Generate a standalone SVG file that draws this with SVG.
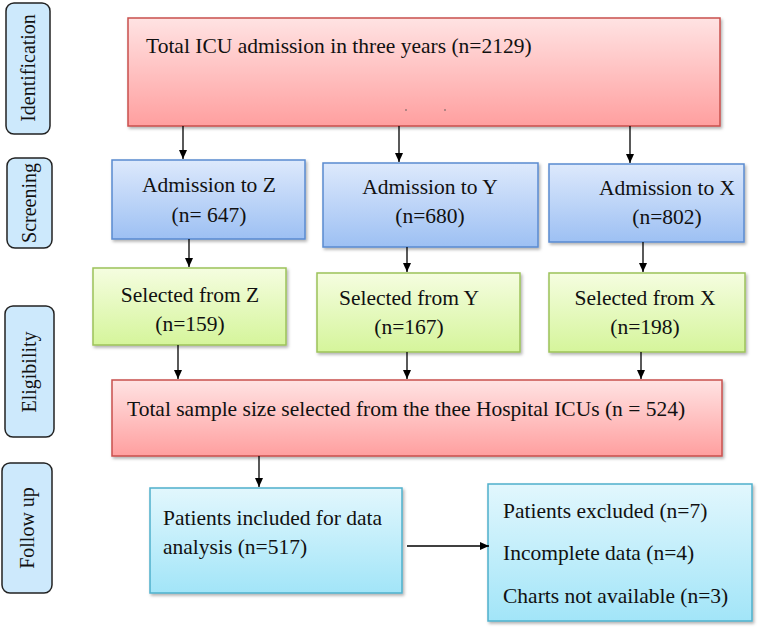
<svg xmlns="http://www.w3.org/2000/svg" width="762" height="633" viewBox="0 0 762 633">
<defs>
<linearGradient id="gRed" x1="0" y1="0" x2="0" y2="1"><stop offset="0" stop-color="#ffe3e3"/><stop offset="1" stop-color="#ff9f9f"/></linearGradient>
<linearGradient id="gBlue" x1="0" y1="0" x2="0" y2="1"><stop offset="0" stop-color="#dde9fc"/><stop offset="1" stop-color="#9dc0f3"/></linearGradient>
<linearGradient id="gGreen" x1="0" y1="0" x2="0" y2="1"><stop offset="0" stop-color="#f5fde0"/><stop offset="1" stop-color="#d5f59b"/></linearGradient>
<linearGradient id="gCyan" x1="0" y1="0" x2="0" y2="1"><stop offset="0" stop-color="#e2f7fd"/><stop offset="1" stop-color="#a2e5f8"/></linearGradient>
<filter id="sh" x="-5%" y="-5%" width="115%" height="120%"><feDropShadow dx="1.5" dy="2" stdDeviation="1.5" flood-color="#000" flood-opacity="0.3"/></filter>
<marker id="ah" markerWidth="10" markerHeight="10" refX="9" refY="5" orient="auto" markerUnits="userSpaceOnUse"><path d="M0,1 L9,5 L0,9 Z" fill="#000"/></marker>
</defs>
<style>
text{font-family:"Liberation Serif","Times New Roman",serif;font-size:21.5px;fill:#111}
.mid{text-anchor:middle}
.lbl{font-size:20px}
.side{fill:#cde9fc;stroke:#222;stroke-width:1.5}
.red{fill:url(#gRed);stroke:#c9504d;stroke-width:1.5;filter:url(#sh)}
.blue{fill:url(#gBlue);stroke:#5a8ad0;stroke-width:1.5;filter:url(#sh)}
.green{fill:url(#gGreen);stroke:#9cc25a;stroke-width:1.5;filter:url(#sh)}
.cyan{fill:url(#gCyan);stroke:#4fb0cc;stroke-width:1.5;filter:url(#sh)}
.con line{stroke:#000;stroke-width:1.3;marker-end:url(#ah)}
</style>
<rect width="762" height="633" fill="#fff"/>
<g id="stage-identification"><rect class="side" x="6" y="3" width="44" height="131" rx="8"/><text class="mid lbl" transform="translate(35,68) rotate(-90)">Identification</text></g>
<g id="stage-screening"><rect class="side" x="7" y="158" width="45" height="90" rx="8"/><text class="mid lbl" transform="translate(36,203) rotate(-90)">Screening</text></g>
<g id="stage-eligibility"><rect class="side" x="5" y="306" width="49" height="131" rx="8"/><text class="mid lbl" transform="translate(36,372) rotate(-90)">Eligibility</text></g>
<g id="stage-followup"><rect class="side" x="2" y="463" width="50" height="130" rx="8"/><text class="mid lbl" transform="translate(34,528) rotate(-90)">Follow up</text></g>
<g id="total-icu"><rect class="red" x="128" y="18" width="592" height="108"/><text x="146" y="53">Total ICU admission in three years (n=2129)</text><circle cx="406" cy="110" r="0.8" fill="#555"/><circle cx="445" cy="110" r="0.8" fill="#555"/></g>
<g id="adm-z"><rect class="blue" x="112" y="160" width="193" height="79"/><text class="mid" x="209" y="192">Admission to Z</text><text class="mid" x="209" y="222">(n= 647)</text></g>
<g id="adm-y"><rect class="blue" x="323" y="163" width="215" height="84"/><text class="mid" x="430" y="194">Admission to Y</text><text class="mid" x="430" y="223">(n=680)</text></g>
<g id="adm-x"><rect class="blue" x="549" y="164" width="195" height="78"/><text class="mid" x="667" y="195">Admission to X</text><text class="mid" x="667" y="224">(n=802)</text></g>
<g id="sel-z"><rect class="green" x="93" y="268" width="193" height="77"/><text class="mid" x="190" y="302">Selected from Z</text><text class="mid" x="190" y="331">(n=159)</text></g>
<g id="sel-y"><rect class="green" x="317" y="273" width="203" height="79"/><text class="mid" x="409" y="305">Selected from Y</text><text class="mid" x="409" y="334">(n=167)</text></g>
<g id="sel-x"><rect class="green" x="549" y="273" width="196" height="79"/><text class="mid" x="645" y="305">Selected from X</text><text class="mid" x="645" y="334">(n=198)</text></g>
<g id="total-sample"><rect class="red" x="112" y="380" width="610" height="76"/><text x="127" y="416">Total sample size selected from the thee Hospital ICUs (n = 524)</text></g>
<g id="included"><rect class="cyan" x="150" y="488" width="252" height="105"/><text x="163" y="525">Patients included for data</text><text x="163" y="554">analysis (n=517)</text></g>
<g id="excluded"><rect class="cyan" x="488" y="484" width="264" height="137"/><text x="503" y="518">Patients excluded (n=7)</text><text x="503" y="560">Incomplete data (n=4)</text><text x="503" y="603">Charts not available (n=3)</text></g>
<g id="connectors" class="con">
<line x1="183" y1="126" x2="183" y2="159"/>
<line x1="399" y1="126" x2="399" y2="162"/>
<line x1="630" y1="126" x2="630" y2="163"/>
<line x1="189" y1="239" x2="189" y2="267"/>
<line x1="407" y1="247" x2="407" y2="272"/>
<line x1="643" y1="242" x2="643" y2="272"/>
<line x1="178" y1="345" x2="178" y2="379"/>
<line x1="407" y1="352" x2="407" y2="379"/>
<line x1="641" y1="352" x2="641" y2="379"/>
<line x1="259" y1="456" x2="259" y2="487"/>
<line x1="407" y1="546" x2="489" y2="546"/>
</g>
</svg>
